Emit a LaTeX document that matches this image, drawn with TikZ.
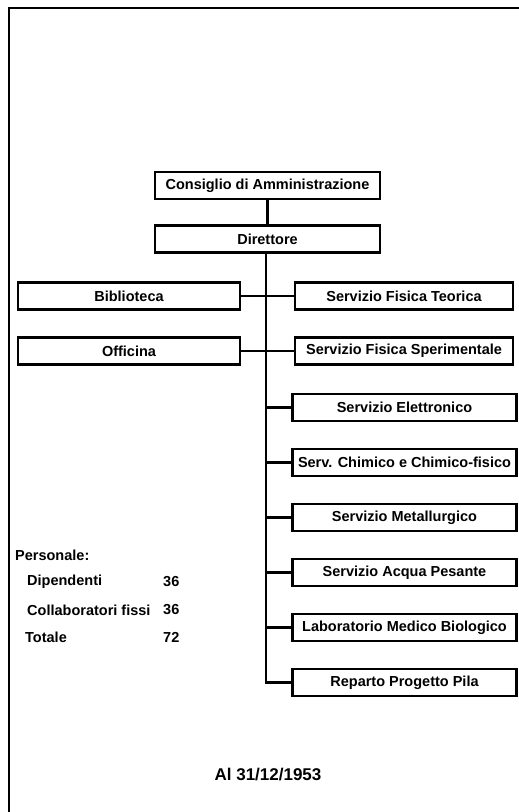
\documentclass[tikz,border=0pt]{standalone}
\usepackage{fontspec}
\setmainfont{Liberation Sans}
\begin{document}
\begin{tikzpicture}[x=1pt,y=-1pt,
  box/.style={draw,line width=2.2pt,rectangle,minimum height=27pt,inner sep=0pt,
    font=\fontsize{14.5}{16}\selectfont\bfseries},
  conn/.style={line width=2.2pt},
  lbl/.style={anchor=west,inner sep=0pt,font=\fontsize{14.5}{16}\selectfont\bfseries}]
\useasboundingbox (0,0) rectangle (519,812);
\draw[line width=2.2pt] (9,812) -- (9,8) -- (519,8);
\node[box,minimum width=225pt] (cda) at (267.5,185.5) {Consiglio di Amministrazione};
\node[box,minimum width=225pt] (dir) at (267.5,239) {Direttore};
\node[box,minimum width=222pt] (bib) at (129,296) {Biblioteca};
\node[box,minimum width=222pt] (off) at (129,351) {Officina};
\node[box,minimum width=218pt] (sft) at (404,296) {Servizio Fisica Teorica};
\node[box,minimum width=218pt] (sfs) at (404,351) {Servizio Fisica Sperimentale};
\node[box,minimum width=224pt] (sel) at (404.5,407.5) {Servizio Elettronico};
\node[box,minimum width=224pt] (sch) at (404.5,462.5) {Serv. Chimico e Chimico-fisico};
\node[box,minimum width=224pt] (smt) at (404.5,517.5) {Servizio Metallurgico};
\node[box,minimum width=224pt] (sap) at (404.5,572.5) {Servizio Acqua Pesante};
\node[box,minimum width=224pt] (lmb) at (404.5,627.5) {Laboratorio Medico Biologico};
\node[box,minimum width=224pt] (rpp) at (404.5,682.5) {Reparto Progetto Pila};
\draw[conn] (cda) -- (dir);
\coordinate (trunk) at (266,252.5);
\draw[conn] (dir.south -| trunk) |- (rpp.west);
\draw[conn] (bib) -- (sft);
\draw[conn] (off) -- (sfs);
\foreach \n in {sel,sch,smt,sap,lmb}
  \draw[conn] (\n.west) -- (\n.west -| trunk);
\node[lbl] (pers) at (15,555) {Personale:};
\node[lbl] (dip) at (27,582) {Dipendenti};
\node[lbl] (dipn) at (163,582) {36};
\node[lbl] (col) at (27,610) {Collaboratori fissi};
\node[lbl] (coln) at (163,610) {36};
\node[lbl] (tot) at (25,637) {Totale};
\node[lbl] (totn) at (163,637) {72};
\node[inner sep=0pt,font=\fontsize{17}{20}\selectfont\bfseries] (date) at (268,775) {Al 31/12/1953};
\end{tikzpicture}
\end{document}
